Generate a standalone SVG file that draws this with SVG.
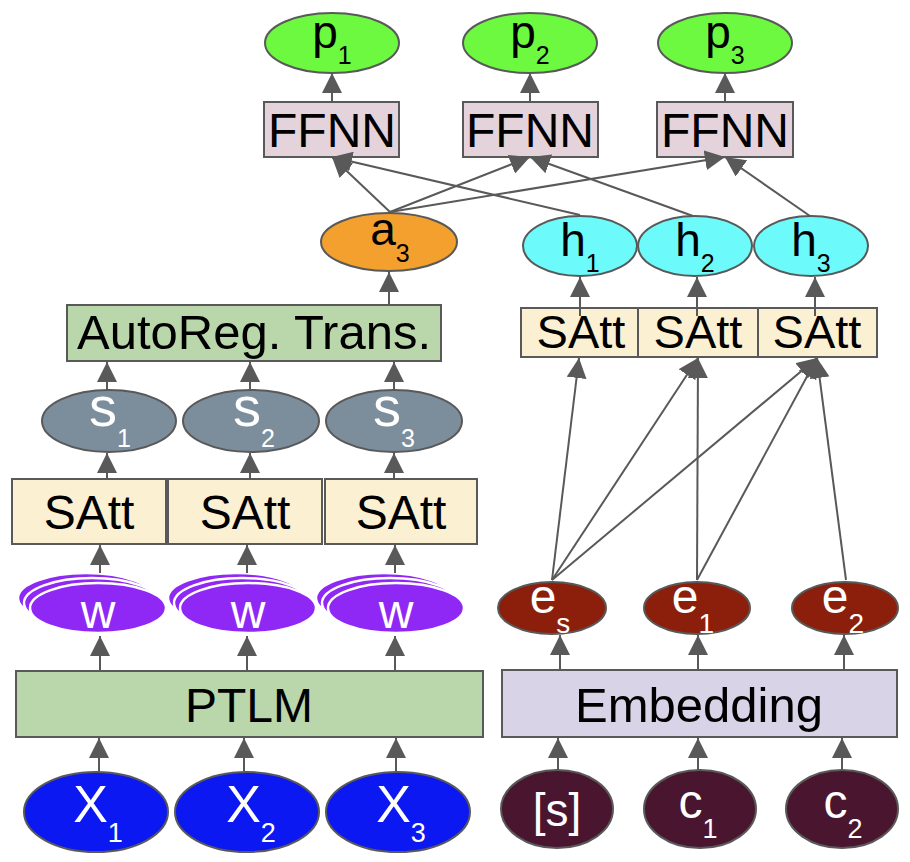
<svg xmlns="http://www.w3.org/2000/svg" width="910" height="862" viewBox="0 0 910 862">
<style>
text{font-family:"Liberation Sans",Arial,sans-serif;text-anchor:middle}
.n{stroke:#595959;stroke-width:2}
.blk{fill:#000}
.wht{fill:#fff}
.box{font-size:48px}
.con line{stroke:#595959;stroke-width:2;marker-end:url(#ah)}
.p{fill:#6cf93f}
.ff{fill:#e5d3dc}
.a{fill:#f3a02e}
.h{fill:#6dfafa}
.sa{fill:#fcf0d2}
.gr{fill:#b9d7ab}
.s{fill:#7c8e9c}
.w{fill:#9028f5;stroke:#fff;stroke-width:2.5}
.e{fill:#8c1f0c}
.em{fill:#d9d3e8}
.c{fill:#4a162f}
.x{fill:#0b18f2}
</style>
<defs>
<marker id="ah" viewBox="0 0 20 20" refX="20" refY="10" markerWidth="20" markerHeight="20" markerUnits="userSpaceOnUse" orient="auto">
<path d="M0,0 L20,10 L0,20 z" fill="#595959"/>
</marker>
</defs>

<!-- top outputs -->
<g id="p1"><ellipse class="n p" cx="332" cy="43" rx="67" ry="30"/><text class="blk" x="332" y="48" font-size="46">p<tspan font-size="25" dy="16">1</tspan></text></g>
<g id="p2"><ellipse class="n p" cx="530" cy="43" rx="67" ry="30"/><text class="blk" x="530" y="48" font-size="46">p<tspan font-size="25" dy="16">2</tspan></text></g>
<g id="p3"><ellipse class="n p" cx="725" cy="43" rx="67" ry="30"/><text class="blk" x="725" y="48" font-size="46">p<tspan font-size="25" dy="16">3</tspan></text></g>

<g id="ffnn1"><rect class="n ff" x="264" y="102" width="135" height="55"/><text class="blk box" x="332" y="147">FFNN</text></g>
<g id="ffnn2"><rect class="n ff" x="463" y="102" width="135" height="55"/><text class="blk box" x="530" y="147">FFNN</text></g>
<g id="ffnn3"><rect class="n ff" x="657" y="102" width="136" height="55"/><text class="blk box" x="725" y="147">FFNN</text></g>

<g id="a3"><ellipse class="n a" cx="389" cy="242" rx="68" ry="29"/><text class="blk" x="390" y="245" font-size="46">a<tspan font-size="25" dy="17">3</tspan></text></g>

<g id="h1"><ellipse class="n h" cx="580" cy="246" rx="57" ry="30"/><text class="blk" x="580" y="256" font-size="46">h<tspan font-size="25" dy="16">1</tspan></text></g>
<g id="h2"><ellipse class="n h" cx="695" cy="246" rx="57" ry="30"/><text class="blk" x="695" y="256" font-size="46">h<tspan font-size="25" dy="16">2</tspan></text></g>
<g id="h3"><ellipse class="n h" cx="811" cy="246" rx="57" ry="30"/><text class="blk" x="811" y="256" font-size="46">h<tspan font-size="25" dy="16">3</tspan></text></g>

<!-- right SAtt -->
<g id="rsatt1"><rect class="n sa" x="521" y="308" width="117" height="49"/><text class="blk" x="581" y="348" font-size="47">SAtt</text></g>
<g id="rsatt2"><rect class="n sa" x="638" y="308" width="120" height="49"/><text class="blk" x="698" y="348" font-size="47">SAtt</text></g>
<g id="rsatt3"><rect class="n sa" x="758" y="308" width="119" height="49"/><text class="blk" x="817" y="348" font-size="47">SAtt</text></g>

<!-- left stack -->
<g id="autoreg"><rect class="n gr" x="67" y="305" width="374" height="56"/><text class="blk" x="254" y="349" font-size="49">AutoReg. Trans.</text></g>

<g id="s1"><ellipse class="n s" cx="109" cy="421" rx="67" ry="31"/><text class="wht" x="110" y="426" font-size="56">s<tspan font-size="25" dy="21">1</tspan></text></g>
<g id="s2"><ellipse class="n s" cx="251" cy="421" rx="68" ry="31"/><text class="wht" x="254" y="426" font-size="56">s<tspan font-size="25" dy="21">2</tspan></text></g>
<g id="s3"><ellipse class="n s" cx="394" cy="421" rx="68" ry="31"/><text class="wht" x="394" y="426" font-size="56">s<tspan font-size="25" dy="21">3</tspan></text></g>

<g id="lsatt1"><rect class="n sa" x="12" y="479" width="154" height="65"/><text class="blk" x="89" y="529" font-size="48">SAtt</text></g>
<g id="lsatt2"><rect class="n sa" x="168" y="479" width="154" height="65"/><text class="blk" x="245" y="529" font-size="48">SAtt</text></g>
<g id="lsatt3"><rect class="n sa" x="325" y="479" width="152" height="65"/><text class="blk" x="401" y="529" font-size="48">SAtt</text></g>

<g id="w1"><ellipse class="w" cx="86" cy="598" rx="68" ry="25"/><ellipse class="w" cx="92" cy="603" rx="68" ry="25"/><ellipse class="w" cx="98" cy="608" rx="68" ry="25"/><text class="wht" x="98" y="628" font-size="48">w</text></g>
<g id="w2"><ellipse class="w" cx="236" cy="598" rx="68" ry="25"/><ellipse class="w" cx="242" cy="603" rx="68" ry="25"/><ellipse class="w" cx="248" cy="608" rx="68" ry="25"/><text class="wht" x="248" y="628" font-size="48">w</text></g>
<g id="w3"><ellipse class="w" cx="384" cy="598" rx="68" ry="25"/><ellipse class="w" cx="390" cy="603" rx="68" ry="25"/><ellipse class="w" cx="396" cy="608" rx="68" ry="25"/><text class="wht" x="396" y="628" font-size="48">w</text></g>

<g id="ptlm"><rect class="n gr" x="16" y="671" width="467" height="66"/><text class="blk" x="249" y="722" font-size="48">PTLM</text></g>

<g id="x1"><ellipse class="n x" cx="96" cy="812" rx="72" ry="40"/><text class="wht" x="98" y="822" font-size="52">X<tspan font-size="27" dy="20">1</tspan></text></g>
<g id="x2"><ellipse class="n x" cx="247" cy="812" rx="72" ry="40"/><text class="wht" x="251" y="822" font-size="52">X<tspan font-size="27" dy="20">2</tspan></text></g>
<g id="x3"><ellipse class="n x" cx="398" cy="812" rx="72" ry="40"/><text class="wht" x="401" y="822" font-size="52">X<tspan font-size="27" dy="20">3</tspan></text></g>

<!-- right lower -->
<g id="es"><ellipse class="n e" cx="552" cy="608" rx="54" ry="26"/><text class="wht" x="550" y="613" font-size="48">e<tspan font-size="28" dy="20">s</tspan></text></g>
<g id="e1"><ellipse class="n e" cx="697" cy="608" rx="53" ry="26"/><text class="wht" x="693" y="613" font-size="48">e<tspan font-size="28" dy="20">1</tspan></text></g>
<g id="e2"><ellipse class="n e" cx="845" cy="608" rx="53" ry="26"/><text class="wht" x="843" y="613" font-size="48">e<tspan font-size="28" dy="20">2</tspan></text></g>

<g id="embedding"><rect class="n em" x="502" y="670" width="395" height="67"/><text class="blk" x="699" y="722" font-size="49">Embedding</text></g>

<g id="sinput"><ellipse class="n c" cx="557" cy="809" rx="56" ry="39"/><text class="wht" x="557" y="826" font-size="46">[s]</text></g>
<g id="c1"><ellipse class="n c" cx="700" cy="809" rx="56" ry="39"/><text class="wht" x="698" y="818" font-size="48">c<tspan font-size="27" dy="20">1</tspan></text></g>
<g id="c2"><ellipse class="n c" cx="842" cy="809" rx="56" ry="39"/><text class="wht" x="843" y="818" font-size="48">c<tspan font-size="27" dy="20">2</tspan></text></g>

<g id="connectors" class="con">
<line x1="332" y1="102" x2="332" y2="73"/>
<line x1="530" y1="102" x2="530" y2="73"/>
<line x1="725" y1="102" x2="725" y2="73"/>
<line x1="390" y1="212" x2="332" y2="157"/>
<line x1="390" y1="212" x2="530" y2="157"/>
<line x1="390" y1="212" x2="725" y2="157"/>
<line x1="580" y1="215" x2="332" y2="157"/>
<line x1="693" y1="216" x2="530" y2="157"/>
<line x1="810" y1="216" x2="725" y2="157"/>
<line x1="580" y1="316" x2="580" y2="277"/>
<line x1="697" y1="316" x2="697" y2="277"/>
<line x1="815" y1="316" x2="815" y2="277"/>
<line x1="552" y1="580" x2="579" y2="358"/>
<line x1="552" y1="580" x2="698" y2="358"/>
<line x1="552" y1="580" x2="817" y2="358"/>
<line x1="697" y1="580" x2="698" y2="358"/>
<line x1="697" y1="580" x2="817" y2="358"/>
<line x1="846" y1="580" x2="817" y2="358"/>
<line x1="560" y1="670" x2="560" y2="635"/>
<line x1="698" y1="670" x2="698" y2="635"/>
<line x1="844" y1="670" x2="844" y2="635"/>
<line x1="558" y1="770" x2="558" y2="738"/>
<line x1="698" y1="770" x2="698" y2="738"/>
<line x1="842" y1="770" x2="842" y2="738"/>
<line x1="389" y1="305" x2="389" y2="272"/>
<line x1="107" y1="390" x2="107" y2="362"/>
<line x1="250" y1="390" x2="250" y2="362"/>
<line x1="394" y1="390" x2="394" y2="362"/>
<line x1="107" y1="479" x2="107" y2="453"/>
<line x1="250" y1="479" x2="250" y2="453"/>
<line x1="394" y1="479" x2="394" y2="453"/>
<line x1="100" y1="573" x2="100" y2="545"/>
<line x1="247" y1="573" x2="247" y2="545"/>
<line x1="395" y1="573" x2="395" y2="545"/>
<line x1="100" y1="671" x2="100" y2="636"/>
<line x1="247" y1="671" x2="247" y2="636"/>
<line x1="395" y1="671" x2="395" y2="636"/>
<line x1="99" y1="772" x2="99" y2="738"/>
<line x1="244" y1="772" x2="244" y2="738"/>
<line x1="396" y1="772" x2="396" y2="738"/>
</g>
</svg>
